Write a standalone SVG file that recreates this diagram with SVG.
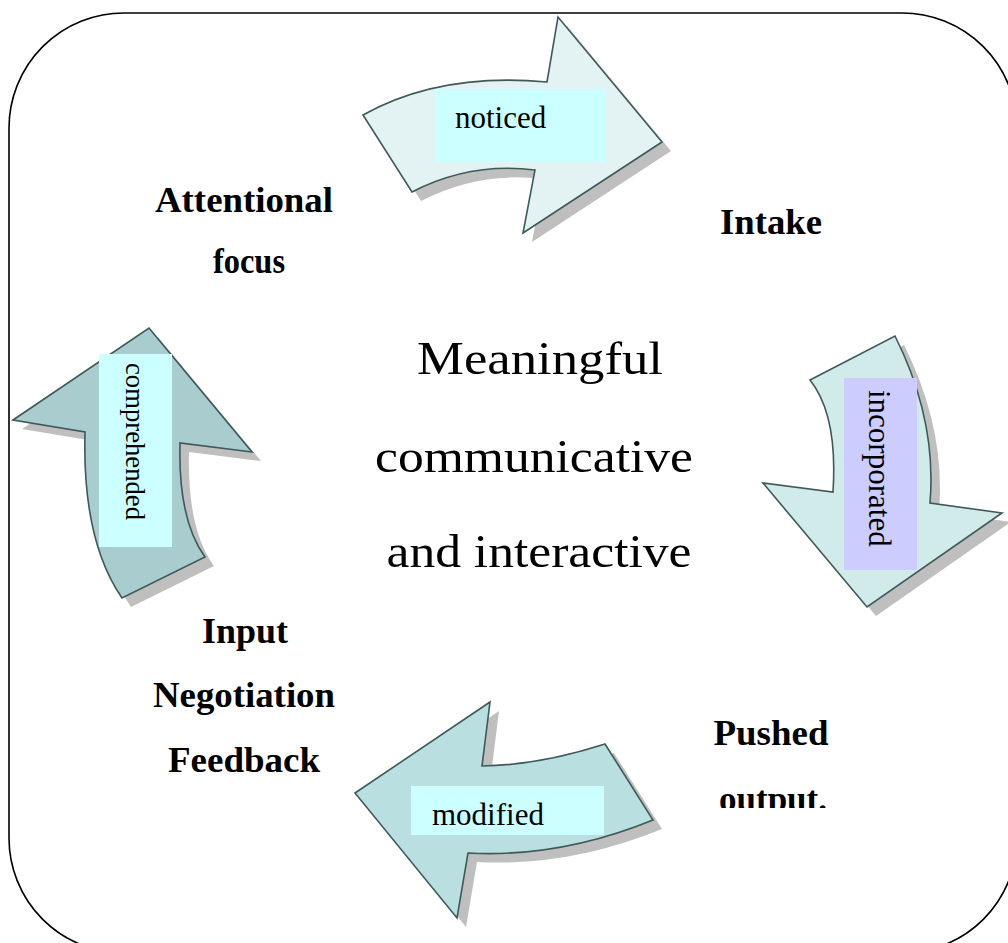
<svg xmlns="http://www.w3.org/2000/svg" xmlns:xlink="http://www.w3.org/1999/xlink" width="1008" height="943" viewBox="0 0 1008 943">
<style>
.frame{fill:#fff;stroke:#000;stroke-width:1.6}
.arrow{stroke:#3f5858;stroke-width:1.6;stroke-linejoin:miter}
.shadow{fill:#bfbfbf;stroke:none}
.lbl{font-family:"Liberation Serif","Times New Roman",serif;font-size:31px;fill:#000}
.node{font-family:"Liberation Serif","Times New Roman",serif;font-size:35px;font-weight:bold;fill:#000;text-anchor:middle}
.big{font-family:"Liberation Serif","Times New Roman",serif;font-size:47px;fill:#000;text-anchor:middle}
</style>
<defs>
<path id="aTop" d="M363,115 Q440,72 547,82 L558,17 L662,142 L523,233 L535,170 Q470,162 412,192 Z"/>
<path id="aRight" d="M810,380 L895,336 Q937,420 930,503 L1002,513 L867,607 L763,483 L833,492 Q838,415 810,380 Z"/>
<path id="aBottom" d="M490,702 L355,793 L457,918 L468,853 Q560,858 653,820 L605,744 Q540,765 482,766 Z"/>
<path id="aLeft" d="M13,420 L149,328 L252,452 L180,443 Q178,520 205,557 L122,598 Q82,540 85,432 Z"/>
<clipPath id="clipOut"><rect x="680" y="700" width="200" height="108"/></clipPath>
</defs>
<rect class="frame" x="9" y="13" width="1008" height="940" rx="115" ry="115"/>
<g id="connectors">
  <g id="arrow-noticed">
    <use xlink:href="#aTop" class="shadow" transform="translate(9,9)"/>
    <use xlink:href="#aTop" class="arrow" fill="#e3f2f2"/>
    <rect x="435" y="89" width="170" height="73" fill="#ccffff"/>
    <text class="lbl" x="455" y="128">noticed</text>
  </g>
  <g id="arrow-incorporated">
    <use xlink:href="#aRight" class="shadow" transform="translate(9,9)"/>
    <use xlink:href="#aRight" class="arrow" fill="#d1eaea"/>
    <rect x="844" y="378" width="73" height="192" fill="#ccccff"/>
    <text class="lbl" transform="translate(869,390) rotate(90)" x="0" y="0">incorporated</text>
  </g>
  <g id="arrow-modified">
    <use xlink:href="#aBottom" class="shadow" transform="translate(9,9)"/>
    <use xlink:href="#aBottom" class="arrow" fill="#b9dfe1"/>
    <rect x="411" y="786" width="193" height="49" fill="#ccffff"/>
    <text class="lbl" x="432" y="825">modified</text>
  </g>
  <g id="arrow-comprehended">
    <use xlink:href="#aLeft" class="shadow" transform="translate(9,9)"/>
    <use xlink:href="#aLeft" class="arrow" fill="#a9ccce"/>
    <rect x="99" y="354" width="73" height="193" fill="#ccffff"/>
    <text class="lbl" style="font-size:28px" transform="translate(126,363) rotate(90)" x="0" y="0" textLength="157" lengthAdjust="spacingAndGlyphs">comprehended</text>
  </g>
</g>
<g id="node-attention">
  <text class="node" x="244" y="212" textLength="178" lengthAdjust="spacingAndGlyphs">Attentional</text>
  <text class="node" x="249" y="273" textLength="72" lengthAdjust="spacingAndGlyphs">focus</text>
</g>
<g id="node-intake">
  <text class="node" x="771" y="234" textLength="102" lengthAdjust="spacingAndGlyphs">Intake</text>
</g>
<g id="node-output">
  <text class="node" x="771" y="745" textLength="115" lengthAdjust="spacingAndGlyphs">Pushed</text>
  <g clip-path="url(#clipOut)">
    <text class="node" x="773" y="811">output.</text>
  </g>
</g>
<g id="node-input">
  <text class="node" x="245" y="643" textLength="86" lengthAdjust="spacingAndGlyphs">Input</text>
  <text class="node" x="244" y="707" textLength="182" lengthAdjust="spacingAndGlyphs">Negotiation</text>
  <text class="node" x="244" y="772" textLength="152" lengthAdjust="spacingAndGlyphs">Feedback</text>
</g>
<g id="node-center">
  <text class="big" x="540" y="374" textLength="246" lengthAdjust="spacingAndGlyphs">Meaningful</text>
  <text class="big" x="534" y="472" textLength="318" lengthAdjust="spacingAndGlyphs">communicative</text>
  <text class="big" x="539" y="567" textLength="305" lengthAdjust="spacingAndGlyphs">and interactive</text>
</g>
</svg>
